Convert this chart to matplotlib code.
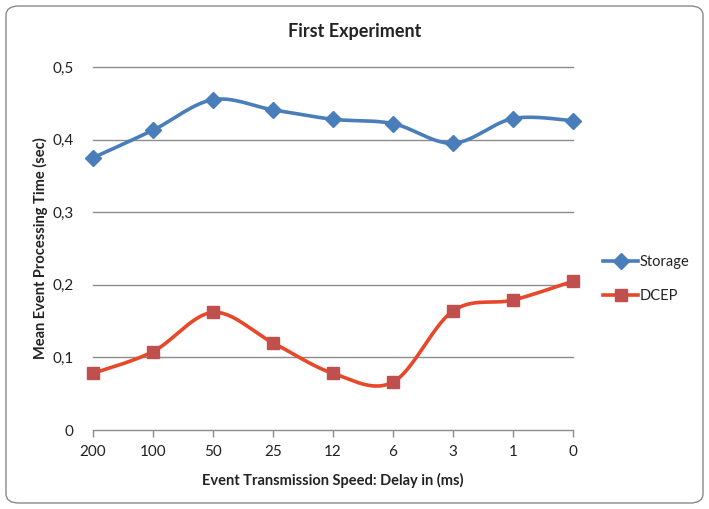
import numpy as np
import matplotlib
matplotlib.use("Agg")
import matplotlib.pyplot as plt
from matplotlib.patches import FancyBboxPatch
from matplotlib.lines import Line2D

categories = ["200", "100", "50", "25", "12", "6", "3", "1", "0"]
storage = [0.375, 0.413, 0.455, 0.441, 0.428, 0.422, 0.395, 0.429, 0.426]
dcep = [0.078, 0.108, 0.162, 0.120, 0.078, 0.066, 0.164, 0.179, 0.205]
yticks = [0, 0.1, 0.2, 0.3, 0.4, 0.5]
ytick_labels = ["0", "0,1", "0,2", "0,3", "0,4", "0,5"]

plt.rcParams['font.family'] = ['Lato', 'DejaVu Sans']

def smooth(x, y, n=30):
    # Catmull-Rom style bezier smoothing (as in spreadsheet "smoothed line")
    x = np.asarray(x, float); y = np.asarray(y, float)
    px = np.concatenate([[x[0]], x, [x[-1]]])
    py = np.concatenate([[y[0]], y, [y[-1]]])
    xs, ys = [], []
    t = np.linspace(0, 1, n)
    for i in range(1, len(px) - 2):
        p0 = np.array([px[i], py[i]]); p3 = np.array([px[i + 1], py[i + 1]])
        p1 = p0 + (np.array([px[i + 1], py[i + 1]]) - np.array([px[i - 1], py[i - 1]])) / 6
        p2 = p3 - (np.array([px[i + 2], py[i + 2]]) - np.array([px[i], py[i]])) / 6
        b = ((1 - t) ** 3)[:, None] * p0 + (3 * (1 - t) ** 2 * t)[:, None] * p1 \
            + (3 * (1 - t) * t ** 2)[:, None] * p2 + (t ** 3)[:, None] * p3
        xs.extend(b[:, 0]); ys.extend(b[:, 1])
    return np.array(xs), np.array(ys)

fig = plt.figure(figsize=(7.09, 5.09), dpi=100)
border = FancyBboxPatch((6 / 709, 6 / 509), 697 / 709, 497 / 509,
                        boxstyle="round,pad=0,rounding_size=0.018",
                        transform=fig.transFigure, facecolor="none",
                        edgecolor="#8a8a8a", linewidth=1.0, zorder=0)
fig.patches.append(border)

ax = fig.add_axes([93 / 709, 1 - 430 / 509, 480 / 709, 363 / 509])
ax.set_facecolor("none")
x = np.arange(len(categories))

blue = "#4A7EBB"
red_line = "#E8482A"
red_mark = "#C0504D"

sx, sy = smooth(x, storage)
ax.plot(sx, sy, color=blue, lw=2.6, solid_capstyle="round", zorder=3)
ax.plot(x, storage, linestyle="none", marker="D", ms=8, color=blue, zorder=4)

dx, dy = smooth(x, dcep)
ax.plot(dx, dy, color=red_line, lw=2.6, solid_capstyle="round", zorder=3)
ax.plot(x, dcep, linestyle="none", marker="s", ms=9, color=red_mark, zorder=4)

ax.set_xlim(0, len(categories) - 1)
ax.set_ylim(0, 0.5)
ax.set_yticks(yticks)
ax.set_yticklabels(ytick_labels)
ax.set_xticks(x)
ax.set_xticklabels(categories)
for yv in yticks[1:]:
    ax.axhline(yv, color="#8c8c8c", lw=1.0, zorder=1)
for s in ["top", "right", "left"]:
    ax.spines[s].set_visible(False)
ax.spines["bottom"].set_color("#8c8c8c")
ax.spines["bottom"].set_linewidth(1.0)
ax.spines["bottom"].set_zorder(1)
ax.tick_params(axis="x", direction="out", length=5, width=1, color="#8c8c8c",
               labelsize=11, labelcolor="#222222", pad=6)
ax.tick_params(axis="y", length=0, labelsize=11, labelcolor="#222222", pad=14)
for l in ax.lines:
    l.set_clip_on(False)

fig.text(355 / 709, 1 - 32 / 509, "First Experiment", ha="center", va="center",
         fontsize=13, fontweight="bold", color="#222222")
fig.text(40 / 709, 1 - 248 / 509, "Mean Event Processing Time (sec)", ha="center",
         va="center", rotation=90, fontsize=10.5, fontweight="bold", color="#222222")
fig.text(333 / 709, 1 - 480 / 509, "Event Transmission Speed: Delay in (ms)",
         ha="center", va="center", fontsize=10.5, fontweight="bold", color="#222222")

handles = [Line2D([], [], color=blue, lw=2.6, marker="D", ms=8),
           Line2D([], [], color=red_line, lw=2.6, marker="s", ms=9,
                  markerfacecolor=red_mark, markeredgecolor=red_mark)]
fig.legend(handles, ["Storage", "DCEP"], loc="center left",
           bbox_to_anchor=(603 / 709, 1 - 279 / 509), frameon=False,
           fontsize=10.5, handlelength=2.4, handletextpad=0.1, labelspacing=1.4,
           borderpad=0, borderaxespad=0, labelcolor="#222222")

fig.savefig("out.png", dpi=100)
